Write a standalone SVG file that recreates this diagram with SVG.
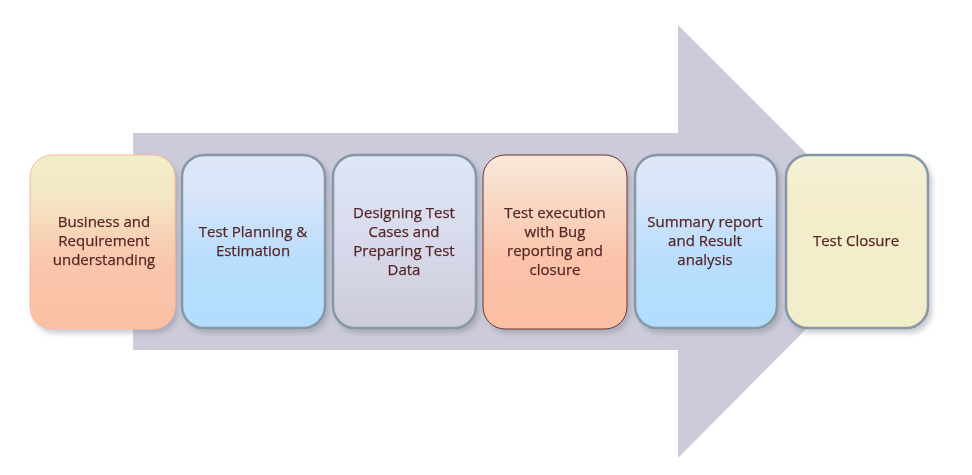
<svg xmlns="http://www.w3.org/2000/svg" width="972" height="475" viewBox="0 0 972 475">
<defs>
<linearGradient id="gSalmon" x1="0" y1="0" x2="0" y2="1">
<stop offset="0" stop-color="#f2edc9"/><stop offset="0.25" stop-color="#f3e6c4"/><stop offset="0.6" stop-color="#f9c7ac"/><stop offset="1" stop-color="#fbbfa5"/>
</linearGradient>
<linearGradient id="gBlue" x1="0" y1="0" x2="0" y2="1">
<stop offset="0" stop-color="#dfe6f8"/><stop offset="0.2" stop-color="#dbe5f9"/><stop offset="0.6" stop-color="#b8defd"/><stop offset="1" stop-color="#b2ddfd"/>
</linearGradient>
<linearGradient id="gGray" x1="0" y1="0" x2="0" y2="1">
<stop offset="0" stop-color="#dfe6f7"/><stop offset="0.4" stop-color="#d9ddee"/><stop offset="1" stop-color="#cccbda"/>
</linearGradient>
<linearGradient id="gPeach" x1="0" y1="0" x2="0" y2="1">
<stop offset="0" stop-color="#f9e8d8"/><stop offset="0.2" stop-color="#f8ddcb"/><stop offset="0.6" stop-color="#fbc3aa"/><stop offset="1" stop-color="#fbbfa5"/>
</linearGradient>
<linearGradient id="gCream" x1="0" y1="0" x2="0" y2="1">
<stop offset="0" stop-color="#f5f1d6"/><stop offset="0.3" stop-color="#f3edcc"/><stop offset="1" stop-color="#f2edcb"/>
</linearGradient>
<filter id="sh" x="-10%" y="-10%" width="125%" height="125%">
<feDropShadow dx="3" dy="4" stdDeviation="2.5" flood-color="#6e7280" flood-opacity="0.35"/>
</filter>
<style>
.t{font-family:"Open Sans","Liberation Sans",sans-serif;font-size:15px;fill:#562626;stroke:#562626;stroke-width:0.25;text-anchor:middle}
.b{stroke:#8698a6;stroke-width:2.5}
</style>
</defs>
<rect width="972" height="475" fill="#ffffff"/>
<g id="arrow">
<polygon points="133,133 678,133 678,25 894,241 678,458 678,350 133,350" fill="#cccbda"/>
</g>
<g id="connectors"></g>
<g id="n1" filter="url(#sh)">
<rect x="30" y="155" width="145" height="174" rx="22" fill="url(#gSalmon)" stroke="#f7bba2" stroke-width="1"/>
<text class="t" x="104" y="227">Business and</text>
<text class="t" x="104" y="246">Requirement</text>
<text class="t" x="104" y="265">understanding</text>
</g>
<g id="n2" filter="url(#sh)">
<rect x="182" y="155" width="143" height="173" rx="22" fill="url(#gBlue)" class="b"/>
<text class="t" x="253" y="237">Test Planning &amp;</text>
<text class="t" x="253" y="256">Estimation</text>
</g>
<g id="n3" filter="url(#sh)">
<rect x="333" y="155" width="143" height="173" rx="22" fill="url(#gGray)" class="b"/>
<text class="t" x="404" y="218">Designing Test</text>
<text class="t" x="404" y="237">Cases and</text>
<text class="t" x="404" y="256">Preparing Test</text>
<text class="t" x="404" y="275">Data</text>
</g>
<g id="n4" filter="url(#sh)">
<rect x="483" y="155" width="144" height="174" rx="22" fill="url(#gPeach)" stroke="#6b2f2f" stroke-width="1"/>
<text class="t" x="555" y="218">Test execution</text>
<text class="t" x="555" y="237">with Bug</text>
<text class="t" x="555" y="256">reporting and</text>
<text class="t" x="555" y="275">closure</text>
</g>
<g id="n5" filter="url(#sh)">
<rect x="635" y="155" width="142" height="173" rx="22" fill="url(#gBlue)" class="b"/>
<text class="t" x="705" y="227">Summary report</text>
<text class="t" x="705" y="246">and Result</text>
<text class="t" x="705" y="265">analysis</text>
</g>
<g id="n6" filter="url(#sh)">
<rect x="786" y="155" width="142" height="173" rx="22" fill="url(#gCream)" class="b"/>
<text class="t" x="856" y="246">Test Closure</text>
</g>
</svg>
